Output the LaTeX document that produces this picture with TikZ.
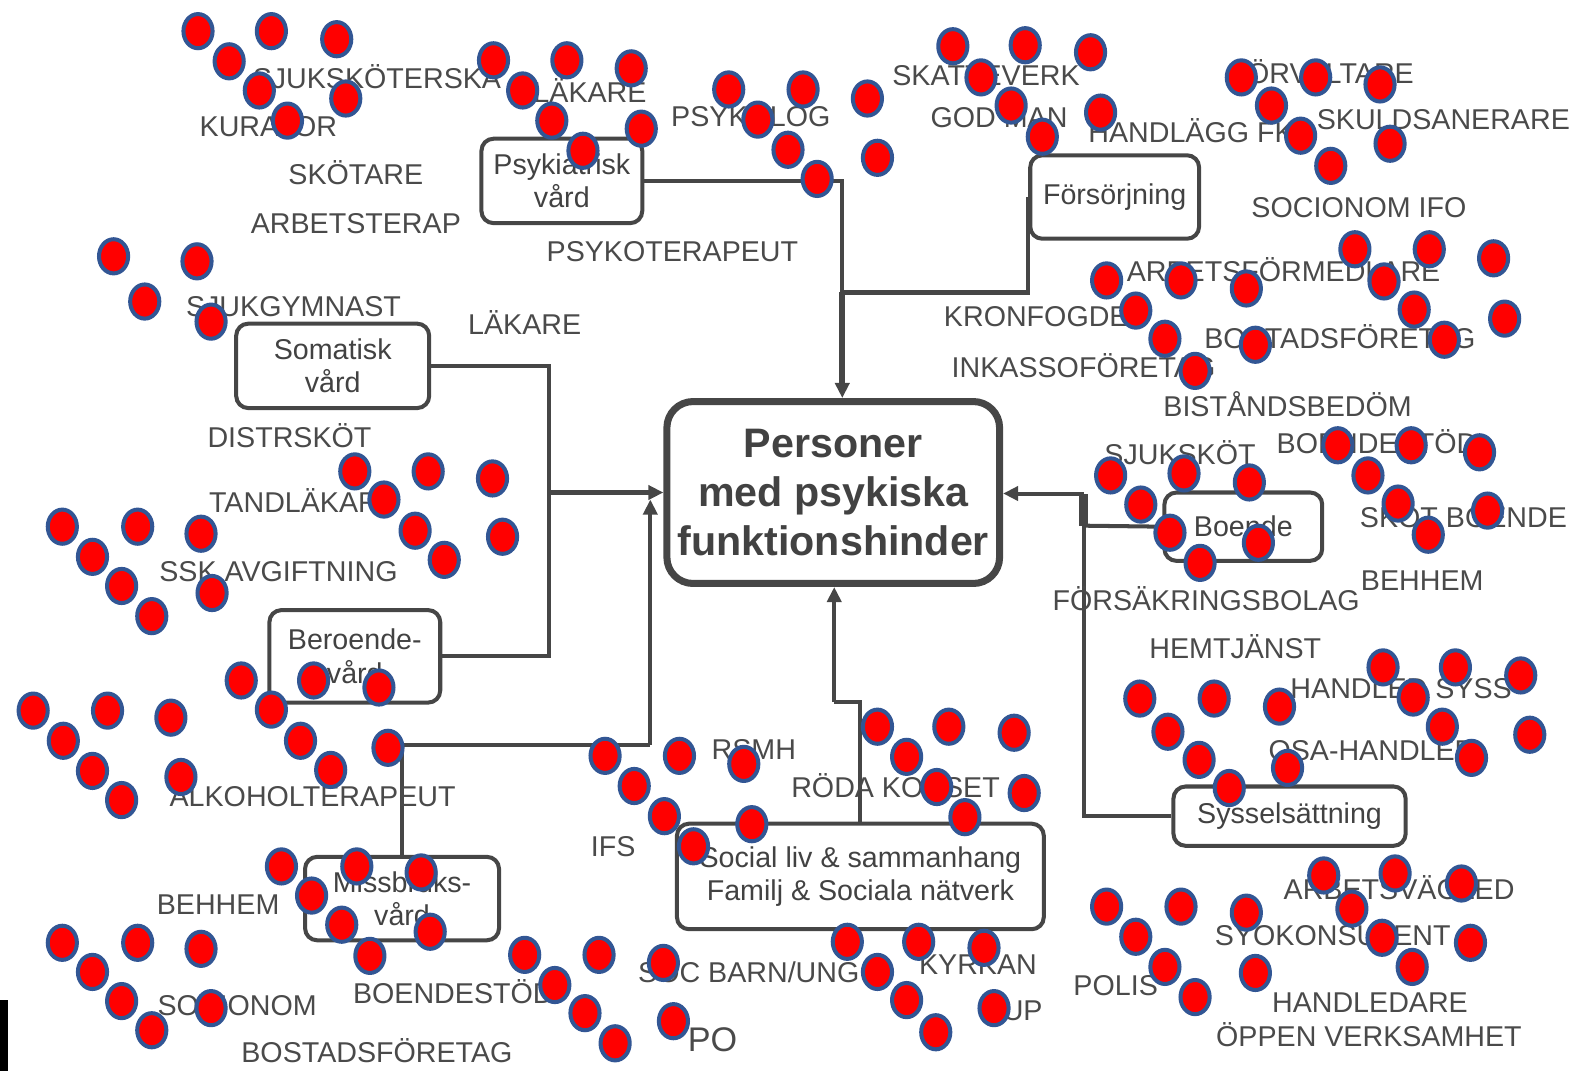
\documentclass[tikz,border=0pt]{standalone}
\usepackage{fontspec}
\setmainfont{Liberation Sans}
\usetikzlibrary{arrows.meta}
\definecolor{lbl}{RGB}{74,74,74}
\definecolor{boxtxt}{RGB}{66,66,66}
\definecolor{ln}{RGB}{70,70,70}
\definecolor{dotfill}{RGB}{255,0,0}
\definecolor{dotrim}{RGB}{50,86,148}
\begin{document}
\begin{tikzpicture}[x=1pt,y=-1pt,
  lab/.style={text=lbl, font=\fontsize{28.5}{34}\selectfont, inner sep=0pt, anchor=base},
  box/.style={draw=ln, line width=4pt, rounded corners=12pt, align=center, text=boxtxt,
    font=\fontsize{28.5}{33}\selectfont, inner sep=0pt},
  hub/.style={draw=ln, line width=7pt, rounded corners=26pt, align=center, text=boxtxt,
    font=\fontsize{41}{49}\selectfont\bfseries, inner sep=0pt},
  conn/.style={draw=ln, line width=4pt},
  tip/.style={-{Triangle[length=15pt,width=14pt]}},
  spot/.style={fill=dotfill, draw=dotrim, line width=4pt}]
\useasboundingbox (0,0) rectangle (1568,1066);

% ---- central node and the care / support boxes
\node[hub, minimum width=331pt, minimum height=181pt] (cent) at (829,490)
  {Personer\\med psykiska\\funktionshinder};
\node[box, minimum width=160pt, minimum height=84pt] (psyk) at (559,180) {Psykiatrisk\\vård};
\node[box, minimum width=168pt, minimum height=83pt] (fors) at (1109,196) {Försörjning};
\node[box, minimum width=192pt, minimum height=84pt] (soma) at (331,364) {Somatisk\\vård};
\node[box, minimum width=170pt, minimum height=92pt] (bero) at (353,653) {Beroende-\\vård};
\node[box, minimum width=193pt, minimum height=83pt] (miss) at (400,894) {Missbruks-\\vård};
\node[box, minimum width=365pt, minimum height=105pt] (soc) at (856,872)
  {Social liv \& sammanhang\\Familj \& Sociala nätverk};
\node[box, minimum width=231pt, minimum height=59pt] (syss) at (1283,812) {Sysselsättning};
\node[box, minimum width=157pt, minimum height=68pt] (boen) at (1237,524) {Boende};

% ---- connectors into the central node
\coordinate (jt) at (838,291);
\draw[conn] (psyk.east) -| (jt);
\draw[conn] (fors.west) |- (jt);
\draw[conn, line width=6pt, tip] (jt) -- (jt |- cent.north);

\coordinate (jl) at (546,490);
\draw[conn] (soma.east) -| (jl);
\draw[conn] (bero.east) -| (jl);
\draw[conn, tip] (jl) -- (jl -| cent.west);

\coordinate (jm) at (647,741);
\coordinate (jmtip) at (647,497);
\draw[conn] (miss.north) |- (jm);
\draw[conn, tip] (jm) -- (jmtip);

\coordinate (js) at (830,698);
\draw[conn] (soc.north) |- (js);
\draw[conn, tip] (js) -- (js |- cent.south);

\coordinate (jr) at (1078,523);
\coordinate (jr2) at (1078,491);
\draw[conn] (boen.west) -- (jr);
\draw[conn] (syss.west) -| (jr);
\draw[conn, line width=8pt] (jr) -- (jr2);
\draw[conn, tip] (jr2) -- (jr2 -| cent.east);

% ---- professions and actors
\node[lab] (t1) at (375,88) {SJUKSKÖTERSKA};
\node[lab] (t2) at (587,102) {LÄKARE};
\node[lab] (t3) at (267,136) {KURATOR};
\node[lab] (t4) at (354,184) {SKÖTARE};
\node[lab] (t5) at (354,232) {ARBETSTERAP};
\node[lab] (t6) at (747,126) {PSYKOLOG};
\node[lab] (t7) at (669,260) {PSYKOTERAPEUT};
\node[lab] (t8) at (981,85) {SKATTEVERK};
\node[lab] (t9) at (994,127) {GOD MAN};
\node[lab] (t10) at (1185,142) {HANDLÄGG FK};
\node[lab] (t11) at (1315,83) {FÖRVALTARE};
\node[lab] (t12) at (1436,129) {SKULDSANERARE};
\node[lab] (t13) at (1352,216) {SOCIONOM IFO};
\node[lab] (t14) at (1277,280) {ARBETSFÖRMEDLARE};
\node[lab] (t15) at (1031,325) {KRONFOGDE};
\node[lab] (t16) at (1333,347) {BOSTADSFÖRETAG};
\node[lab] (t17) at (1078,376) {INKASSOFÖRETAG};
\node[lab] (t18) at (1281,414) {BISTÅNDSBEDÖM};
\node[lab] (t19) at (1174,462) {SJUKSKÖT};
\node[lab] (t20) at (1370,451) {BOENDESTÖD};
\node[lab] (t21) at (1456,525) {SKÖT BOENDE};
\node[lab] (t22) at (1415,587) {BEHHEM};
\node[lab] (t23) at (1200,607) {FÖRSÄKRINGSBOLAG};
\node[lab] (t24) at (1229,655) {HEMTJÄNST};
\node[lab] (t25) at (1394,695) {HANDLED SYSS};
\node[lab] (t26) at (1365,757) {OSA-HANDLED};
\node[lab] (t27) at (1392,895) {ARBETSVÄGLED};
\node[lab] (t28) at (1326,941) {SYOKONSULENT};
\node[lab] (t29) at (1363,1007) {HANDLEDARE};
\node[lab] (t30) at (1362,1041) {ÖPPEN VERKSAMHET};
\node[lab] (t31) at (1110,990) {POLIS};
\node[lab] (t32) at (973,970) {KYRKAN};
\node[lab] (t33) at (1008,1015) {BUP};
\node[lab] (t34) at (745,977) {SOC BARN/UNG};
\node[lab, font=\fontsize{34}{40}\selectfont] (t35) at (709,1046) {PO};
\node[lab] (t36) at (891,793) {RÖDA KORSET};
\node[lab] (t37) at (750,756) {RSMH};
\node[lab] (t38) at (610,852) {IFS};
\node[lab] (t39) at (311,802) {ALKOHOLTERAPEUT};
\node[lab] (t40) at (217,910) {BEHHEM};
\node[lab] (t41) at (236,1010) {SOCIONOM};
\node[lab] (t42) at (451,998) {BOENDESTÖD};
\node[lab] (t43) at (375,1057) {BOSTADSFÖRETAG};
\node[lab] (t44) at (277,579) {SSK AVGIFTNING};
\node[lab] (t45) at (302,510) {TANDLÄKARE};
\node[lab] (t46) at (288,445) {DISTRSKÖT};
\node[lab] (t47) at (522,333) {LÄKARE};
\node[lab] (t48) at (292,315) {SJUKGYMNAST};

% ---- red markers
\foreach \px/\py in {
  197/31, 270/31, 335/39, 228/61, 258/90, 344/98, 286/120,
  491/60, 564/60, 628/68, 520/90, 549/120, 638/128, 580/150,
  725/89, 799/89, 863/98, 754/119, 784/149, 873/157, 813/178,
  948/46, 1020/45, 1085/52, 976/77, 1006/105, 1095/112, 1037/136,
  1235/77, 1309/77, 1373/84, 1265/105, 1294/135, 1383/143, 1324/165,
  1348/248, 1422/248, 1486/257, 1377/280, 1407/308, 1497/317, 1437/338,
  1101/279, 1175/279, 1240/287, 1130/309, 1159/337, 1249/343, 1189/369,
  1331/443, 1404/443, 1472/450, 1361/473, 1391/501, 1480/508, 1421/532,
  1105/473, 1178/471, 1243/480, 1135/502, 1164/530, 1252/540, 1194/560,
  1376/664, 1448/664, 1513/672, 1406/694, 1435/723, 1522/731, 1464/754,
  1134/695, 1208/695, 1273/703, 1162/728, 1193/756, 1281/764, 1223/784,
  1317/871, 1388/869, 1454/879, 1345/904, 1375/933, 1463/938, 1405/962,
  1101/902, 1175/902, 1240/908, 1130/932, 1159/962, 1249/968, 1189/992,
  873/723, 944/723, 1009/729, 902/753, 932/783, 1019/789, 960/813,
  843/937, 914/937, 979/943, 873/967, 902/995, 989/1003, 931/1027,
  602/752, 676/752, 740/760, 631/782, 661/812, 748/820, 690/842,
  522/950, 596/950, 660/958, 552/980, 582/1008, 670/1016, 612/1038,
  33/707, 107/707, 170/714, 63/737, 92/767, 180/773, 121/796,
  240/677, 312/677, 377/684, 270/706, 299/737, 386/744, 329/766,
  62/524, 137/524, 200/531, 92/554, 121/583, 211/590, 151/613,
  353/469, 426/469, 490/476, 382/497, 413/528, 500/534, 442/557,
  113/255, 196/260, 144/300, 210/320,
  280/862, 355/862, 419/868, 310/891, 340/920, 428/927, 368/951,
  62/938, 137/938, 200/944, 92/967, 121/996, 210/1003, 151/1025}
  \draw[spot] (\px,\py) ellipse [x radius=14.5pt, y radius=17pt];

% ---- black edge strip
\fill[black] (0,995) rectangle (8,1066);
\end{tikzpicture}
\end{document}
